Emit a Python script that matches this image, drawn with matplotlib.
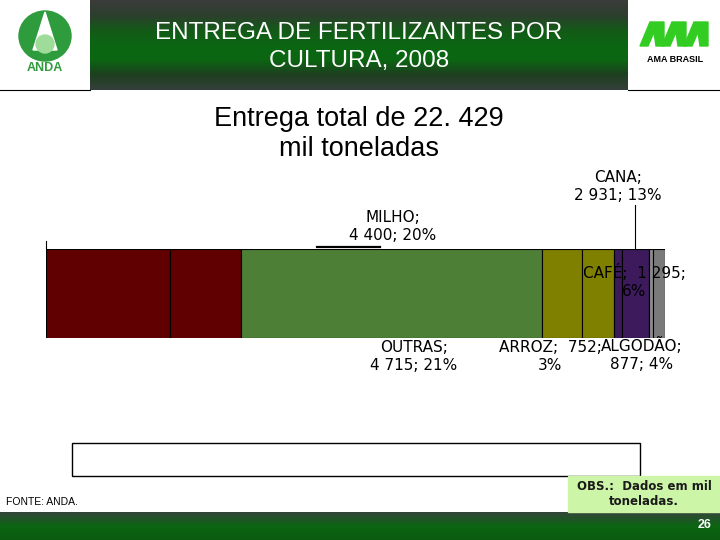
"""Entrega de fertilizantes por cultura, 2008 - barra empilhada"""
import matplotlib
matplotlib.use("Agg")
import matplotlib.pyplot as plt
import numpy as np
from matplotlib.patches import Rectangle, Ellipse, Polygon
from matplotlib.colors import LinearSegmentedColormap

plt.rcParams['font.family'] = ['Liberation Sans', 'DejaVu Sans']

TOTAL = 22429

segment_values = [4490, 2570, 10910, 1450, 1160, 290, 980, 145, 435]
segment_colors = ['#600000', '#600000', '#4e7f36', '#808000', '#808000',
                  '#3c1a5c', '#3c1a5c', '#8c8c8c', '#7a7a7a']

# rótulos das culturas
label_names = ['MILHO', 'CANA', 'CAFÉ', 'OUTRAS', 'ARROZ', 'ALGODÃO']
label_values = [4400, 2931, 1295, 4715, 752, 877]


def fmt_num(v):
    return f"{v:,}".replace(",", " ")


def pct(v):
    return f"{round(100 * v / TOTAL):.0f}%"


def pixel_axes(fig, zorder):
    a = fig.add_axes([0, 0, 1, 1], zorder=zorder)
    a.set_xlim(0, 720)
    a.set_ylim(540, 0)
    a.axis('off')
    a.patch.set_alpha(0)
    return a


fig = plt.figure(figsize=(7.2, 5.4), dpi=100)

# camada de fundo em pixels
bg = pixel_axes(fig, 0)

# faixa do título com degradê
head_cmap = LinearSegmentedColormap.from_list(
    'head', ['#3b3c3a', '#2c3f2e', '#145a18', '#0b6612', '#0b6612', '#1e3f20', '#34403a'])
grad = np.linspace(0, 1, 100).reshape(-1, 1)
bg.imshow(grad, cmap=head_cmap, extent=[90, 628, 90, 0], aspect='auto', zorder=1)
bg.plot([0, 90], [90, 90], color='black', lw=0.8)
bg.plot([628, 720], [90, 90], color='black', lw=0.8)
bg.text(359, 47, "ENTREGA DE FERTILIZANTES POR\nCULTURA, 2008", color='white',
        fontsize=17.5, ha='center', va='center', linespacing=1.3, zorder=3)

# logo ANDA
bg.add_patch(Ellipse((45, 36), 52, 50, color='#2e9b3c', zorder=2))
bg.add_patch(Polygon([(45, 12), (33, 50), (57, 50)], closed=True, color='white', zorder=3))
bg.add_patch(Ellipse((45, 44), 18, 18, color='#9fdc9a', zorder=4))
bg.text(45, 68, "ANDA", color='#2e9b3c', fontsize=9, fontweight='bold',
        ha='center', va='center')

# logo AMA BRASIL
ama = '#33cc22'
for x0 in (640, 662, 684):
    bg.add_patch(Polygon([(x0, 46), (x0 + 10, 22), (x0 + 24, 22), (x0 + 24, 46),
                          (x0 + 16, 46), (x0 + 14, 32), (x0 + 8, 46)],
                         closed=True, color=ama, zorder=2))
bg.text(675, 59, "AMA BRASIL", fontsize=6.5, fontweight='bold',
        ha='center', va='center')

# subtítulo
bg.text(359, 134, "Entrega total de 22. 429\nmil toneladas", fontsize=19.5,
        ha='center', va='center', linespacing=1.25)

# barra empilhada
ax = fig.add_axes([46 / 720, 1 - 338 / 540, 619 / 720, 89 / 540], zorder=1)
left = 0
for val, col in zip(segment_values, segment_colors):
    ax.barh(0, val, left=left, height=1, color=col, edgecolor='black', linewidth=0.8)
    left += val
ax.set_xlim(0, sum(segment_values))
ax.set_ylim(-0.5, 0.5)
ax.axis('off')

# camada de rótulos por cima da barra
top = pixel_axes(fig, 2)

# linhas auxiliares
top.plot([46, 46], [241, 249], color='black', lw=0.8)
top.plot([317, 380], [247, 247], color='black', lw=1.6)
top.plot([635, 635], [205, 249], color='black', lw=0.8)

label_pos = {
    'MILHO': (393, 227, "{n};\n{v}; {p}"),
    'CANA': (618, 186, "{n};\n{v}; {p}"),
    'CAFÉ': (634, 281, "{n};  {v};\n{p}"),
    'OUTRAS': (414, 356, "{n};\n{v}; {p}"),
    'ARROZ': (550, 356, "{n};  {v};\n{p}"),
    'ALGODÃO': (642, 354, "{n};\n{v}; {p}"),
}
for name, val in zip(label_names, label_values):
    x, y, tpl = label_pos[name]
    top.text(x, y, tpl.format(n=name, v=fmt_num(val), p=pct(val)), fontsize=11,
             family='DejaVu Sans', ha='center', va='center', linespacing=1.25)

# caixa vazia inferior
bg.add_patch(Rectangle((72, 443), 568, 33, fill=False, edgecolor='black', lw=1))

# observação
bg.add_patch(Rectangle((568, 476), 152, 36, color='#ccf5a8', zorder=2))
bg.text(644, 494, "OBS.:  Dados em mil\ntoneladas.", fontsize=8.5, color='#1a1a1a',
        fontweight='bold', family='DejaVu Sans', ha='center', va='center',
        linespacing=1.2, zorder=3)
bg.text(6, 502, "FONTE: ANDA.", fontsize=7.5, ha='left', va='center')

# faixa inferior
foot_cmap = LinearSegmentedColormap.from_list('foot', ['#34443a', '#0b6612', '#0a5a10'])
bg.imshow(grad, cmap=foot_cmap, extent=[0, 720, 540, 512], aspect='auto', zorder=1)
bg.text(712, 525, "26", color='white', fontsize=9, fontweight='bold',
        ha='right', va='center', zorder=3)

bg.set_xlim(0, 720)
bg.set_ylim(540, 0)
fig.savefig("out.png", dpi=100)
